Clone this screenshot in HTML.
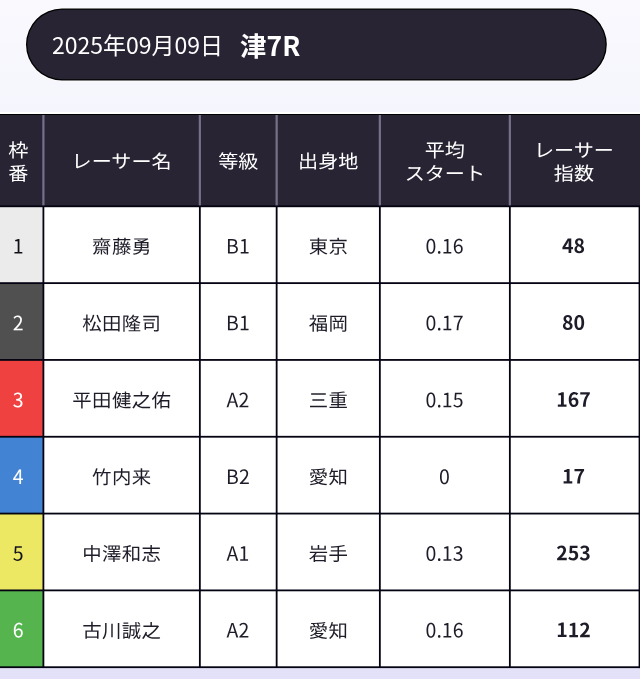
<!DOCTYPE html>
<html lang="ja">
<head>
<meta charset="utf-8">
<title>津7R</title>
<style>
html,body{margin:0;padding:0;}
body{width:640px;height:679px;position:relative;overflow:hidden;background:linear-gradient(180deg,#f9f9fe 0,#e2e1f8 100%);font-family:"Liberation Sans","Noto Sans CJK JP",sans-serif;color:#1e1c28;}
.pill span{position:absolute;line-height:72px;white-space:nowrap;color:#fff;font-family:"Noto Sans CJK JP","Liberation Sans",sans-serif;}
.pill .d{left:52px;top:8px;font-size:23px;}
.pill .r{left:240px;top:9px;font-size:26.5px;font-weight:700;}
.tbl{position:absolute;left:0;top:0;width:640px;height:679px;font-family:"Noto Sans CJK JP","Liberation Sans",sans-serif;}
.bk{position:absolute;}
.c{position:absolute;display:flex;align-items:center;justify-content:center;text-align:center;box-sizing:border-box;white-space:nowrap;}
.h{color:#fff;font-size:20px;line-height:25.4px;}
.w{color:#1e1c28;font-size:19.4px;letter-spacing:.4px;padding-left:.4px;}
.l{font-size:20px;letter-spacing:0;padding-left:0;}
.b{font-weight:700;}
svg{position:absolute;left:0;top:0;}
</style>
</head>
<body>
<svg width="640" height="100" viewBox="0 0 640 100"><rect x="25.2" y="7.7" width="582.4" height="73.6" rx="36.8" fill="#fff" opacity=".85"/><rect x="26" y="8.5" width="580.8" height="72" rx="36" fill="#000"/><rect x="27.3" y="9.8" width="578.2" height="69.4" rx="34.7" fill="#282433"/></svg>
<div class="pill"><span class="d">2025年09月09日</span><span class="r">津7R</span></div>
<div class="tbl">
<div class="bk" style="left:0;top:112px;width:640px;height:2px;background:#fff"></div>
<div class="bk" style="left:0;top:114px;width:640px;height:1px;background:#000"></div>
<div class="bk" style="left:0;top:115px;width:640px;height:92px;background:#282433"></div>
<div class="bk" style="left:0;top:207px;width:640px;height:461px;background:#fff"></div>
<div class="bk" style="left:0;top:207px;width:44px;height:76px;background:#ebebeb"></div>
<div class="bk" style="left:0;top:283px;width:44px;height:77px;background:#505050"></div>
<div class="bk" style="left:0;top:360px;width:44px;height:77px;background:#ef4140"></div>
<div class="bk" style="left:0;top:437px;width:44px;height:77px;background:#4284d3"></div>
<div class="bk" style="left:0;top:514px;width:44px;height:76px;background:#ede863"></div>
<div class="bk" style="left:0;top:590px;width:44px;height:77px;background:#56b44f"></div>
<svg width="640" height="679" viewBox="0 0 640 679"><rect x="42.3" y="115" width="2.2" height="91.3" fill="#76718a"/><rect x="198.75" y="115" width="2.2" height="91.3" fill="#76718a"/><rect x="275.55" y="115" width="2.2" height="91.3" fill="#76718a"/><rect x="378.75" y="115" width="2.2" height="91.3" fill="#76718a"/><rect x="508.75" y="115" width="2.2" height="91.3" fill="#76718a"/><rect x="0" y="205.4" width="640" height="1.8" fill="#030312"/><rect x="0" y="282.22" width="640" height="1.8" fill="#030312"/><rect x="0" y="359.03" width="640" height="1.8" fill="#030312"/><rect x="0" y="435.85" width="640" height="1.8" fill="#030312"/><rect x="0" y="512.67" width="640" height="1.8" fill="#030312"/><rect x="0" y="589.48" width="640" height="1.8" fill="#030312"/><rect x="0" y="666.3" width="640" height="1.8" fill="#030312"/><rect x="42.5" y="206.3" width="1.8" height="460.9" fill="#030312"/><rect x="198.95" y="206.3" width="1.8" height="460.9" fill="#030312"/><rect x="275.75" y="206.3" width="1.8" height="460.9" fill="#030312"/><rect x="378.95" y="206.3" width="1.8" height="460.9" fill="#030312"/><rect x="508.95" y="206.3" width="1.8" height="460.9" fill="#030312"/><rect x="638.6" y="206.3" width="1.4" height="461.8" fill="#030312"/></svg>
<div class="c h" style="left:-7px;top:114px;width:50px;height:92px;transform:translate(0.4px,0.65px) scale(1.005,0.935) rotate(0.05deg)">枠<br>番</div>
<div class="c h" style="left:43px;top:114px;width:156px;height:92px;transform:translate(0.62px,0.65px) scale(1.005,0.935) rotate(0.05deg)">レーサー名</div>
<div class="c h" style="left:199px;top:114px;width:78px;height:92px;transform:translate(0.25px,0.65px) scale(1.005,0.935) rotate(0.05deg)">等級</div>
<div class="c h" style="left:276px;top:114px;width:104px;height:92px;transform:translate(0.25px,0.65px) scale(1.005,0.935) rotate(0.05deg)">出身地</div>
<div class="c h" style="left:379px;top:114px;width:130px;height:92px;transform:translate(0.85px,0.65px) scale(1.005,0.935) rotate(0.05deg)">平均<br>スタート</div>
<div class="c h" style="left:509px;top:114px;width:128px;height:92px;transform:translate(0.92px,0.65px) scale(1.005,0.935) rotate(0.05deg)">レーサー<br>指数</div>
<div class="c w l" style="left:-7px;top:205px;width:50px;height:78px;transform:translate(0.2px,0.66px) scale(0.976,0.985) rotate(0.05deg);color:#111018">1</div>
<div class="c w" style="left:43px;top:205px;width:156px;height:78px;transform:translate(0.62px,0.71px) scale(1,0.957) rotate(0.05deg)">齋藤勇</div>
<div class="c w l" style="left:198px;top:205px;width:78px;height:78px;transform:translate(0.95px,0.66px) scale(0.976,0.985) rotate(0.05deg)">B1</div>
<div class="c w" style="left:276px;top:205px;width:104px;height:78px;transform:translate(0.25px,0.71px) scale(1,0.957) rotate(0.05deg)">東京</div>
<div class="c w l" style="left:379px;top:205px;width:130px;height:78px;transform:translate(0.55px,0.66px) scale(0.976,0.985) rotate(0.05deg)">0.16</div>
<div class="c w l b" style="left:509px;top:205px;width:128px;height:78px;transform:translate(0.5px,0.19px) scale(0.976,0.985) rotate(0.05deg)">48</div>
<div class="c w l" style="left:-7px;top:282px;width:50px;height:78px;transform:translate(0.2px,0.48px) scale(0.976,0.985) rotate(0.05deg);color:#fff">2</div>
<div class="c w" style="left:43px;top:282px;width:156px;height:78px;transform:translate(0.62px,0.53px) scale(1,0.957) rotate(0.05deg)">松田隆司</div>
<div class="c w l" style="left:198px;top:282px;width:78px;height:78px;transform:translate(0.95px,0.48px) scale(0.976,0.985) rotate(0.05deg)">B1</div>
<div class="c w" style="left:276px;top:282px;width:104px;height:78px;transform:translate(0.25px,0.53px) scale(1,0.957) rotate(0.05deg)">福岡</div>
<div class="c w l" style="left:379px;top:282px;width:130px;height:78px;transform:translate(0.55px,0.48px) scale(0.976,0.985) rotate(0.05deg)">0.17</div>
<div class="c w l b" style="left:509px;top:282px;width:128px;height:78px;transform:translate(0.5px,0.01px) scale(0.976,0.985) rotate(0.05deg)">80</div>
<div class="c w l" style="left:-7px;top:359px;width:50px;height:78px;transform:translate(0.2px,0.29px) scale(0.976,0.985) rotate(0.05deg);color:#fff">3</div>
<div class="c w" style="left:43px;top:359px;width:156px;height:78px;transform:translate(0.62px,0.34px) scale(1,0.957) rotate(0.05deg)">平田健之佑</div>
<div class="c w l" style="left:198px;top:359px;width:78px;height:78px;transform:translate(0.95px,0.29px) scale(0.976,0.985) rotate(0.05deg)">A2</div>
<div class="c w" style="left:276px;top:359px;width:104px;height:78px;transform:translate(0.25px,0.34px) scale(1,0.957) rotate(0.05deg)">三重</div>
<div class="c w l" style="left:379px;top:359px;width:130px;height:78px;transform:translate(0.55px,0.29px) scale(0.976,0.985) rotate(0.05deg)">0.15</div>
<div class="c w l b" style="left:509px;top:358px;width:128px;height:78px;transform:translate(0.5px,0.82px) scale(0.976,0.985) rotate(0.05deg)">167</div>
<div class="c w l" style="left:-7px;top:436px;width:50px;height:78px;transform:translate(0.2px,0.11px) scale(0.976,0.985) rotate(0.05deg);color:#fff">4</div>
<div class="c w" style="left:43px;top:436px;width:156px;height:78px;transform:translate(0.62px,0.16px) scale(1,0.957) rotate(0.05deg)">竹内来</div>
<div class="c w l" style="left:198px;top:436px;width:78px;height:78px;transform:translate(0.95px,0.11px) scale(0.976,0.985) rotate(0.05deg)">B2</div>
<div class="c w" style="left:276px;top:436px;width:104px;height:78px;transform:translate(0.25px,0.16px) scale(1,0.957) rotate(0.05deg)">愛知</div>
<div class="c w l" style="left:379px;top:436px;width:130px;height:78px;transform:translate(0.55px,0.11px) scale(0.976,0.985) rotate(0.05deg)">0</div>
<div class="c w l b" style="left:509px;top:435px;width:128px;height:78px;transform:translate(0.5px,0.64px) scale(0.976,0.985) rotate(0.05deg)">17</div>
<div class="c w l" style="left:-7px;top:512px;width:50px;height:78px;transform:translate(0.2px,0.93px) scale(0.976,0.985) rotate(0.05deg);color:#111018">5</div>
<div class="c w" style="left:43px;top:512px;width:156px;height:78px;transform:translate(0.62px,0.98px) scale(1,0.957) rotate(0.05deg)">中澤和志</div>
<div class="c w l" style="left:198px;top:512px;width:78px;height:78px;transform:translate(0.95px,0.93px) scale(0.976,0.985) rotate(0.05deg)">A1</div>
<div class="c w" style="left:276px;top:512px;width:104px;height:78px;transform:translate(0.25px,0.98px) scale(1,0.957) rotate(0.05deg)">岩手</div>
<div class="c w l" style="left:379px;top:512px;width:130px;height:78px;transform:translate(0.55px,0.93px) scale(0.976,0.985) rotate(0.05deg)">0.13</div>
<div class="c w l b" style="left:509px;top:512px;width:128px;height:78px;transform:translate(0.5px,0.46px) scale(0.976,0.985) rotate(0.05deg)">253</div>
<div class="c w l" style="left:-7px;top:589px;width:50px;height:78px;transform:translate(0.2px,0.74px) scale(0.976,0.985) rotate(0.05deg);color:#fff">6</div>
<div class="c w" style="left:43px;top:589px;width:156px;height:78px;transform:translate(0.62px,0.79px) scale(1,0.957) rotate(0.05deg)">古川誠之</div>
<div class="c w l" style="left:198px;top:589px;width:78px;height:78px;transform:translate(0.95px,0.74px) scale(0.976,0.985) rotate(0.05deg)">A2</div>
<div class="c w" style="left:276px;top:589px;width:104px;height:78px;transform:translate(0.25px,0.79px) scale(1,0.957) rotate(0.05deg)">愛知</div>
<div class="c w l" style="left:379px;top:589px;width:130px;height:78px;transform:translate(0.55px,0.74px) scale(0.976,0.985) rotate(0.05deg)">0.16</div>
<div class="c w l b" style="left:509px;top:589px;width:128px;height:78px;transform:translate(0.5px,0.27px) scale(0.976,0.985) rotate(0.05deg)">112</div>
</div>
</body>
</html>
